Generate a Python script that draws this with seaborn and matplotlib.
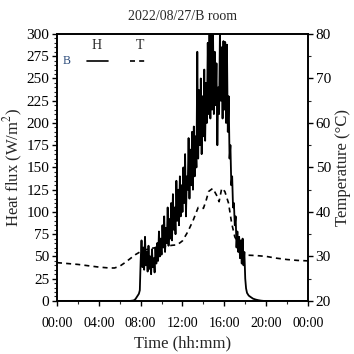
import numpy as np
import pandas as pd
import matplotlib
matplotlib.use("Agg")
import matplotlib.pyplot as plt
import seaborn as sns
from matplotlib.ticker import MultipleLocator, FixedLocator
from matplotlib.lines import Line2D

# ---------------- data ----------------
title = "2022/08/27/B room"
x_tick_pos = [0, 4, 8, 12, 16, 20, 24]
x_tick_labels = ["00:00", "04:00", "08:00", "12:00", "16:00", "20:00", "00:00"]

# heat flux, night / ramp part (hours, W/m2)
h_pre_time = [0.0, 3.0, 6.0, 7.0, 7.33, 7.5, 7.67, 7.83, 7.92]
h_pre_val = [0.0, 0.0, 0.0, 0.0, 0.5, 2.0, 5.0, 8.0, 12.0]

# heat flux, daytime, every 5 minutes from 08:00 to 17:55
h_day_start = 8.0
h_day_val = [
    45, 68, 38, 60, 35, 72, 40, 55, 33, 62, 36, 50,        # 08h
    30, 58, 38, 48, 32, 60, 42, 65, 45, 78, 50, 70,        # 09h
    52, 85, 60, 95, 55, 82, 65, 105, 62, 92, 70, 110,      # 10h
    68, 120, 80, 105, 75, 135, 90, 125, 85, 140, 95, 130,  # 11h
    100, 150, 110, 165, 95, 140, 125, 183, 115, 170, 130, 190,  # 12h
    125, 196, 140, 185, 150, 280, 160, 237, 175, 250, 165, 230,  # 13h
    185, 260, 180, 245, 200, 290, 210, 305, 205, 310, 215, 305,  # 14h
    210, 280, 220, 267, 175, 240, 210, 305, 225, 285, 205, 292,  # 15h
    215, 291, 200, 288, 190, 230, 160, 175, 130, 140, 105, 110,  # 16h
    85, 95, 60, 78, 55, 72, 48, 68, 42, 70, 40, 55,        # 17h
]

# heat flux, evening decay
h_post_time = [18.0, 18.08, 18.17, 18.33, 18.5, 18.75, 19.0, 19.25, 19.5, 19.75, 21.0, 24.0]
h_post_val = [25.0, 14.0, 9.0, 6.0, 4.5, 2.5, 1.5, 0.8, 0.3, 0.0, 0.0, 0.0]

# temperature (hours, deg C)
t_time = [0, 1, 2, 3, 4, 5, 5.5, 6, 6.5, 7, 7.5, 8, 8.5, 9, 9.5, 10, 10.5, 11,
          11.5, 12, 12.5, 13, 13.5, 14, 14.25, 14.5, 14.9, 15.25, 15.5, 15.75,
          16.05, 16.4, 16.7, 17, 17.5, 17.8, 18, 19, 20, 21, 22, 23, 24]
t_val = [28.6, 28.4, 28.2, 27.9, 27.6, 27.4, 27.4, 27.8, 28.6, 29.5, 30.4, 31.1,
         31.5, 31.8, 32.0, 32.2, 32.3, 32.5, 32.6, 33.5, 35.5, 38.0, 41.0, 40.8,
         42.5, 44.6, 45.3, 43.8, 42.3, 45.3, 44.6, 42.0, 37.5, 34.4, 32.2, 30.4,
         30.3, 30.2, 30.0, 29.6, 29.3, 29.1, 29.0]

h_day_time = list(h_day_start + np.arange(len(h_day_val)) * 5 / 60.0)
df_h = pd.DataFrame({
    "time": h_pre_time + h_day_time + h_post_time,
    "H": h_pre_val + h_day_val + h_post_val,
})
df_t = pd.DataFrame({"time": t_time, "T": t_val})

# ---------------- style ----------------
sns.set_style("ticks")
plt.rcParams["font.family"] = ["Liberation Serif", "DejaVu Serif"]
plt.rcParams["mathtext.fontset"] = "stix"

fig = plt.figure(figsize=(3.54, 3.54), dpi=100)
ax = fig.add_axes([0.161, 0.150, 0.709, 0.754])
ax2 = ax.twinx()

sns.lineplot(data=df_h, x="time", y="H", ax=ax, color="black", linewidth=1.3,
             estimator=None)
sns.lineplot(data=df_t, x="time", y="T", ax=ax2, color="black", linewidth=1.2,
             estimator=None, dashes=False)
ax2.lines[0].set_dashes([3, 2.5])

ax.set_xlim(0, 24)
ax.set_ylim(0, 300)
ax2.set_ylim(20, 80)

ax.xaxis.set_major_locator(FixedLocator(x_tick_pos))
ax.set_xticklabels(x_tick_labels)
ax.xaxis.set_minor_locator(MultipleLocator(2))
ax.yaxis.set_major_locator(MultipleLocator(25))
ax.yaxis.set_minor_locator(MultipleLocator(5))
ax2.yaxis.set_major_locator(MultipleLocator(10))
ax2.yaxis.set_minor_locator(MultipleLocator(5))

for a in (ax, ax2):
    a.tick_params(which="major", direction="out", length=3.5, width=1.0,
                  labelsize=11, colors="black", pad=2)
    a.tick_params(which="minor", direction="out", length=2, width=0.8)
    for s in a.spines.values():
        s.set_linewidth(1.2)
        s.set_color("black")
ax.tick_params(axis="x", labelsize=10, pad=8)

ax.set_xlabel("Time (hh:mm)", fontsize=12, labelpad=4)
ax.set_ylabel("Heat flux (W/m$^2$)", fontsize=12, labelpad=1)
ax2.set_ylabel("Temperature (°C)", fontsize=12, labelpad=3)
ax.set_title(title, fontsize=10, pad=10)

# legend (custom layout)
ax.text(0.04, 0.899, "B", transform=ax.transAxes, fontsize=8.5, color="#2a4a7a",
        ha="center", va="center")
ax.text(0.159, 0.955, "H", transform=ax.transAxes, fontsize=10, ha="center", va="center")
ax.text(0.33, 0.955, "T", transform=ax.transAxes, fontsize=10, ha="center", va="center")
ax.add_line(Line2D([0.12, 0.203], [0.899, 0.899], transform=ax.transAxes,
                   color="black", linewidth=1.2))
ax.add_line(Line2D([0.29, 0.363], [0.899, 0.899], transform=ax.transAxes,
                   color="black", linewidth=1.2, dashes=[3, 2.5]))

fig.savefig("out.png", dpi=100)
